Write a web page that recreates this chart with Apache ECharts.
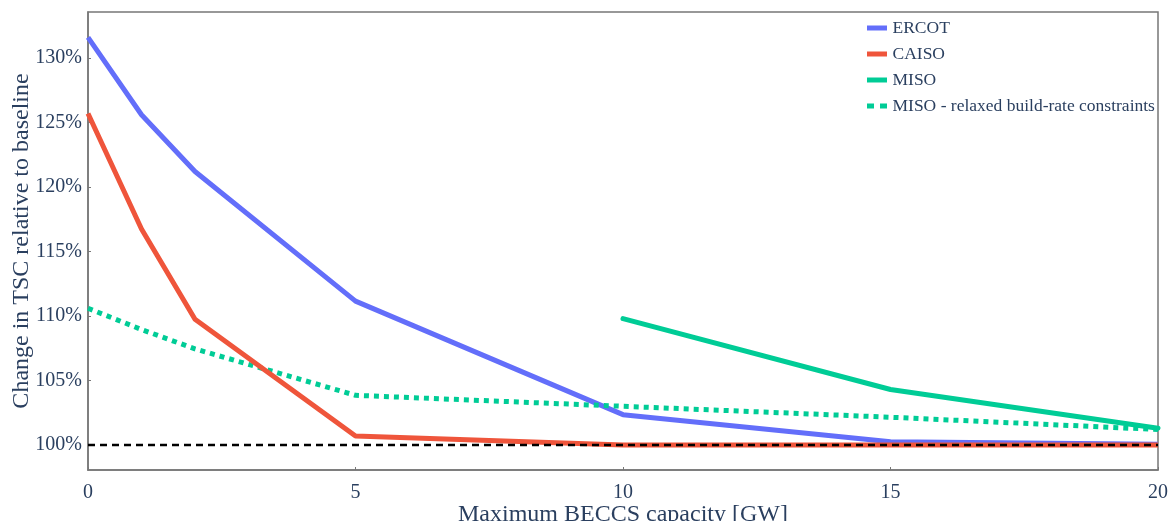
<!DOCTYPE html>
<html>
<head>
<meta charset="utf-8">
<script src="https://cdn.jsdelivr.net/npm/echarts@6/dist/echarts.min.js"></script>
<style>html,body{margin:0;padding:0;background:#fff;}#c{width:1169px;height:521px;}</style>
</head>
<body>
<div id="c"></div>
<script>
const xCats = [0, 1, 2, 5, 10, 15, 20];
const ercot = [131.6, 125.6, 121.2, 111.15, 102.35, 100.25, 100.05];
const caiso = [125.7, 116.75, 109.75, 100.7, 100.0, 100.0, 100.0];
const misoX = [10, 15, 20];
const miso = [109.8, 104.3, 101.3];
const misoRelaxed = [110.6, 108.95, 107.45, 103.85, 103.0, 102.15, 101.2];
const baselineX = [0, 20];
const baseline = [100, 100];
const yTicks = [100, 105, 110, 115, 120, 125, 130];
const xTicks = [0, 5, 10, 15, 20];

const pair = (xs, ys) => xs.map((x, i) => [x, ys[i]]);
const txt = '#2a3f5f';
const font = 'Liberation Serif';
const axisLine = {show: true, lineStyle: {color: '#777', width: 1.5}};
const solidIcon = 'path://M0,0h20v5h-20z';

const chart = echarts.init(document.getElementById('c'));
chart.setOption({
  animation: false,
  grid: {left: 88, right: 11, top: 12, bottom: 51, show: true, borderColor: '#777', borderWidth: 1.5,
         outerBoundsMode: 'none', containLabel: false},
  legend: {
    left: 862, top: 14, orient: 'vertical', itemGap: 8, itemWidth: 21, itemHeight: 5,
    textStyle: {fontFamily: font, fontSize: 17.5, color: txt},
    data: [
      {name: 'ERCOT', icon: solidIcon},
      {name: 'CAISO', icon: solidIcon},
      {name: 'MISO', icon: solidIcon},
      {name: 'MISO - relaxed build-rate constraints', icon: 'path://M0,0h7v5h-7z M13,0h7v5h-7z'}
    ]
  },
  xAxis: {
    type: 'value', min: 0, max: 20, interval: 5,
    name: 'Maximum BECCS capacity [GW]', nameLocation: 'middle', nameGap: 33, nameMoveOverlap: false,
    nameTextStyle: {fontFamily: font, fontSize: 24, color: txt},
    axisLine: axisLine,
    axisTick: {show: true, inside: true, length: 3, lineStyle: {color: '#777'}},
    axisLabel: {fontFamily: font, fontSize: 20, color: txt, margin: 13},
    splitLine: {show: false}
  },
  yAxis: {
    type: 'value', min: 98.06, max: 133.57,
    name: 'Change in TSC relative to baseline', nameLocation: 'middle', nameGap: 54, nameMoveOverlap: false,
    nameTextStyle: {fontFamily: font, fontSize: 24, color: txt},
    axisLine: axisLine,
    axisTick: {show: true, inside: true, length: 3, customValues: yTicks, lineStyle: {color: '#777'}},
    axisLabel: {fontFamily: font, fontSize: 20, color: txt, margin: 6, customValues: yTicks, formatter: v => Math.round(v) + '%'},
    splitLine: {show: false}
  },
  series: [
    {name: 'baseline', type: 'line', data: pair(baselineX, baseline), symbol: 'none', silent: true, z: 5,
     lineStyle: {color: '#000', width: 2.5, type: [7, 5]}},
    {name: 'ERCOT', type: 'line', data: pair(xCats, ercot), symbol: 'none', z: 2,
     lineStyle: {color: '#636efa', width: 5, join: 'round'}, itemStyle: {color: '#636efa'}},
    {name: 'CAISO', type: 'line', data: pair(xCats, caiso), symbol: 'none', z: 3,
     lineStyle: {color: '#EF553B', width: 5, join: 'round'}, itemStyle: {color: '#EF553B'}},
    {name: 'MISO', type: 'line', data: pair(misoX, miso), symbol: 'none', z: 2,
     lineStyle: {color: '#00cc96', width: 5, join: 'round', cap: 'round'}, itemStyle: {color: '#00cc96'}},
    {name: 'MISO - relaxed build-rate constraints', type: 'line', data: pair(xCats, misoRelaxed), symbol: 'none', z: 2,
     lineStyle: {color: '#00cc96', width: 5, type: [5, 5]}, itemStyle: {color: '#00cc96'}}
  ]
});
</script>
</body>
</html>
